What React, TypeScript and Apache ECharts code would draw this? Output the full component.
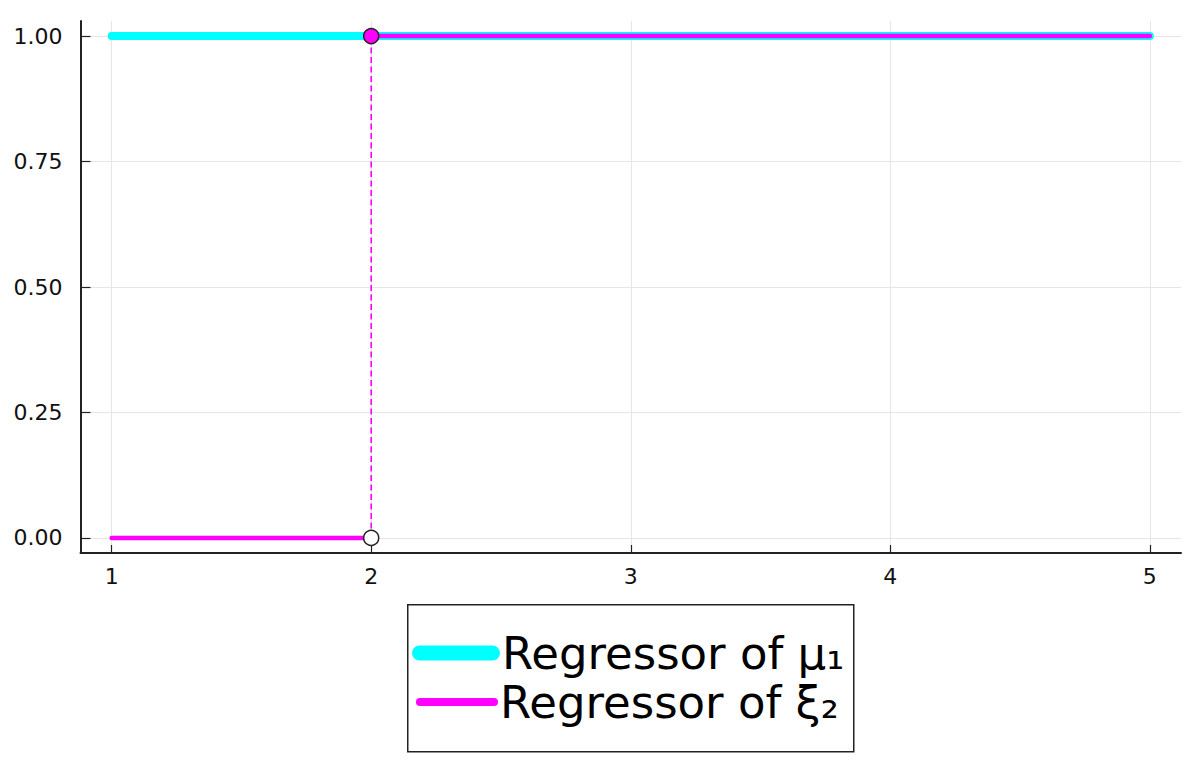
import React, { useEffect, useRef } from "react";
import * as echarts from "echarts";

const xValues = [1, 2, 3, 4, 5];
const mu1Values = [1, 1, 1, 1, 1];
const xi2Values = [0, 1, 1, 1, 1];
const xTicks = [1, 2, 3, 4, 5];
const yTicks = [0, 0.25, 0.5, 0.75, 1];
const legendNames = ["Regressor of μ₁", "Regressor of ξ₂"];

const CYAN = "#00FFFF";
const MAGENTA = "#FF00FF";
const FONT = "DejaVu Sans";

function buildStep(xs: number[], ys: number[]) {
  const line: any[] = [];
  const jumps: { x: number; from: number; to: number }[] = [];
  xs.forEach((x, i) => {
    if (i > 0 && ys[i] !== ys[i - 1]) {
      line.push([x, ys[i - 1]]);
      line.push([x, null]);
      jumps.push({ x, from: ys[i - 1], to: ys[i] });
    }
    line.push([x, ys[i]]);
  });
  return { line, jumps };
}

export default function App() {
  const ref = useRef<HTMLDivElement>(null);
  useEffect(() => {
    const chart = echarts.init(ref.current!, null, { renderer: "svg" });
    const step = buildStep(xValues, xi2Values);
    const dashed: any[] = [];
    step.jumps.forEach((j) => {
      dashed.push([j.x, j.from]);
      dashed.push([j.x, j.to]);
    });
    const openPts = step.jumps.map((j) => [j.x, j.from]);
    const filledPts = step.jumps.map((j) => [j.x, j.to]);

    const capsule = (w: number, h: number) => {
      const r = h / 2;
      return `path://M${r},0H${w - r}A${r},${r},0,0,1,${w - r},${h}H${r}A${r},${r},0,0,1,${r},0Z`;
    };

    const legendText = {
      fontFamily: FONT,
      fontSize: 45,
      color: "#000",
      lineHeight: 50,
      padding: [0, 0, 0, -3],
    };

    const option: any = {
      animation: false,
      backgroundColor: "#ffffff",
      grid: { left: 80.5, right: 15, top: 21, bottom: 228, containLabel: false },
      xAxis: {
        type: "value",
        min: 0.88,
        max: 5.12,
        axisLine: { show: true, onZero: false, lineStyle: { color: "#222", width: 2 } },
        axisTick: { show: true, inside: true, length: 8, customValues: xTicks, lineStyle: { color: "#222", width: 1.2 } },
        axisLabel: {
          customValues: xTicks,
          formatter: (v: number) => String(v),
          fontFamily: FONT,
          fontSize: 22,
          color: "#111",
          margin: 12,
        },
        splitLine: { show: true, lineStyle: { color: "#e6e6e6", width: 1 } },
      },
      yAxis: {
        type: "value",
        min: -0.03,
        max: 1.03,
        axisLine: { show: true, onZero: false, lineStyle: { color: "#222", width: 2 } },
        axisTick: { show: true, inside: true, length: 10, customValues: yTicks, lineStyle: { color: "#222", width: 1.2 } },
        axisLabel: {
          customValues: yTicks,
          formatter: (v: number) => v.toFixed(2),
          fontFamily: FONT,
          fontSize: 22,
          color: "#111",
          margin: 18,
        },
        splitLine: { show: true, lineStyle: { color: "#e6e6e6", width: 1 } },
      },
      legend: [
        {
          data: [{ name: legendNames[0], icon: capsule(88, 15) }],
          left: 412,
          top: 628,
          itemWidth: 88,
          itemHeight: 15,
          padding: 0,
          textStyle: legendText,
          selectedMode: false,
        },
        {
          data: [{ name: legendNames[1], icon: capsule(82, 8) }],
          left: 416,
          top: 677,
          itemWidth: 82,
          itemHeight: 8,
          padding: 0,
          textStyle: legendText,
          selectedMode: false,
        },
      ],
      graphic: [
        {
          type: "rect",
          left: 407,
          top: 604,
          z: 0,
          shape: { width: 446, height: 147 },
          style: { fill: "#fff", stroke: "#222", lineWidth: 1.5 },
        },
      ],
      series: [
        {
          name: legendNames[0],
          type: "line",
          data: xValues.map((x, i) => [x, mu1Values[i]]),
          showSymbol: false,
          symbol: "none",
          color: CYAN,
          lineStyle: { color: CYAN, width: 8, cap: "round" },
          z: 2,
        },
        {
          name: legendNames[1],
          type: "line",
          data: step.line,
          connectNulls: false,
          showSymbol: false,
          symbol: "none",
          color: MAGENTA,
          lineStyle: { color: MAGENTA, width: 4.5, cap: "round" },
          z: 3,
        },
        {
          name: "jump",
          type: "line",
          data: dashed,
          showSymbol: false,
          symbol: "none",
          lineStyle: { color: MAGENTA, width: 1.6, type: [6, 3.5] },
          z: 3,
        },
        {
          name: "open",
          type: "scatter",
          data: openPts,
          symbol: "circle",
          symbolSize: 15,
          itemStyle: { color: "#ffffff", borderColor: "#222", borderWidth: 1.5, opacity: 1 },
          z: 5,
        },
        {
          name: "filled",
          type: "scatter",
          data: filledPts,
          symbol: "circle",
          symbolSize: 15,
          itemStyle: { color: MAGENTA, borderColor: "#222", borderWidth: 1.5, opacity: 1 },
          z: 5,
        },
      ],
    };
    chart.setOption(option);
    return () => chart.dispose();
  }, []);
  return (
    <div
      ref={ref}
      style={{ position: "fixed", left: 0, top: 0, width: 1196, height: 781, background: "#fff" }}
    />
  );
}
